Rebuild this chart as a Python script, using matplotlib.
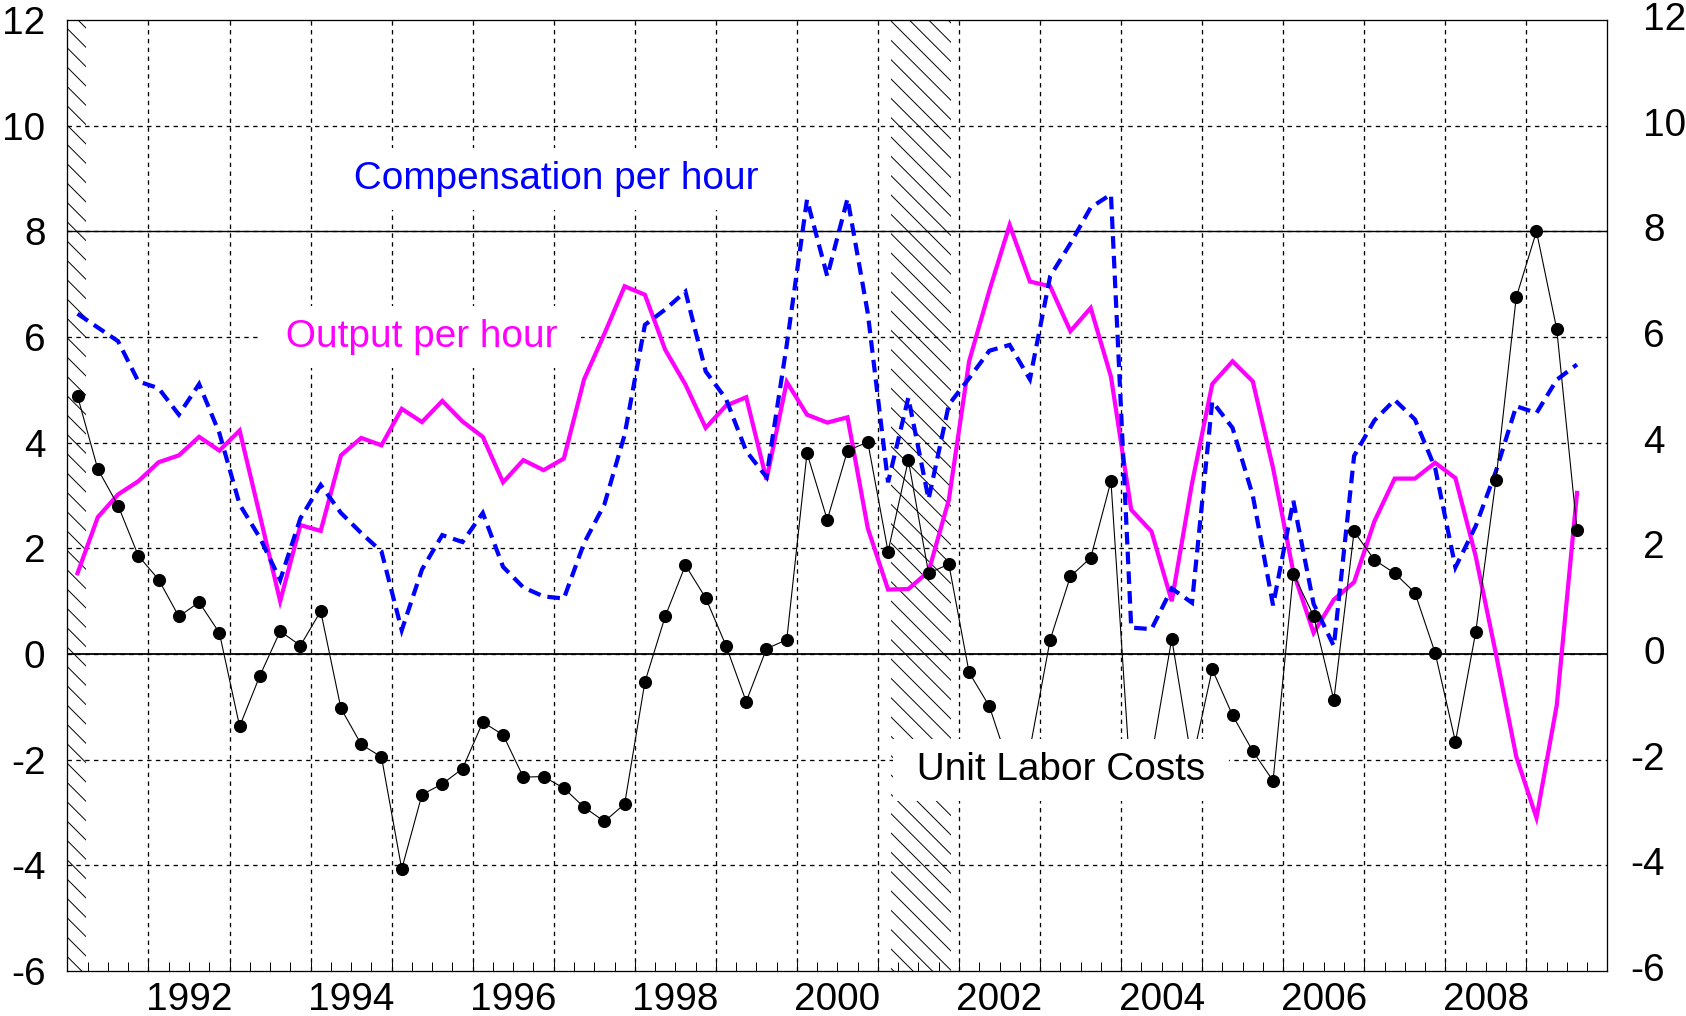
import matplotlib
matplotlib.use("Agg")
import matplotlib.pyplot as plt
import numpy as np
import pandas as pd
from matplotlib.transforms import offset_copy

plt.rcParams['font.family'] = ['Liberation Sans', 'DejaVu Sans']
plt.rcParams['axes.unicode_minus'] = False
plt.rcParams['hatch.linewidth'] = 0.6
plt.rcParams['hatch.color'] = 'black'

DPI = 116
PT = 72 / DPI  # pixels -> points

# quarterly data, 1991Q1 - 2009Q3 (percent change, annual rate)
quarters = pd.period_range('1991Q1', '2009Q3', freq='Q')

unit_labor_costs = [
    4.88, 3.50, 2.81, 1.86, 1.41, 0.71, 0.98, 0.40,
    -1.37, -0.41, 0.43, 0.16, 0.81, -1.03, -1.71, -1.95,
    -4.07, -2.66, -2.46, -2.17, -1.29, -1.53, -2.33, -2.32,
    -2.54, -2.90, -3.17, -2.84, -0.53, 0.71, 1.68, 1.06,
    0.16, -0.90, 0.10, 0.27, 3.80, 2.54, 3.85, 4.01,
    1.94, 3.67, 1.53, 1.70, -0.35, -0.99, -2.15, -1.80,
    0.27, 1.47, 1.82, 3.27, -2.60, -1.95, 0.29, -2.05,
    -0.29, -1.16, -1.84, -2.40, 1.52, 0.72, -0.87, 2.32,
    1.78, 1.53, 1.16, 0.02, -1.66, 0.41, 3.30, 6.75,
    8.00, 6.15, 2.35,
]

output_per_hour = [
    1.53, 2.59, 3.02, 3.27, 3.63, 3.76, 4.11, 3.85,
    4.23, 2.62, 1.00, 2.44, 2.33, 3.76, 4.09, 3.95,
    4.64, 4.39, 4.79, 4.40, 4.11, 3.25, 3.67, 3.48,
    3.70, 5.20, 6.06, 6.96, 6.80, 5.76, 5.10, 4.28,
    4.70, 4.86, 3.30, 5.15, 4.53, 4.38, 4.48, 2.38,
    1.22, 1.23, 1.56, 2.92, 5.54, 6.88, 8.12, 7.05,
    6.96, 6.11, 6.55, 5.25, 2.73, 2.32, 1.00, 3.23,
    5.11, 5.54, 5.16, 3.52, 1.55, 0.40, 1.03, 1.36,
    2.51, 3.32, 3.32, 3.62, 3.33, 1.85, 0.00, -1.94,
    -3.10, -0.97, 3.05,
]

compensation_per_hour = [
    6.44, 6.18, 5.92, 5.16, 5.03, 4.53, 5.11, 4.18,
    2.83, 2.20, 1.40, 2.57, 3.20, 2.67, 2.29, 1.94,
    0.45, 1.60, 2.25, 2.12, 2.67, 1.65, 1.26, 1.09,
    1.05, 2.10, 2.83, 4.15, 6.23, 6.52, 6.86, 5.35,
    4.83, 3.84, 3.35, 5.85, 8.60, 7.15, 8.62, 6.45,
    3.25, 4.85, 2.93, 4.72, 5.22, 5.74, 5.85, 5.20,
    7.15, 7.77, 8.45, 8.70, 0.50, 0.47, 1.24, 0.97,
    4.78, 4.28, 3.00, 0.92, 2.90, 0.95, 0.15, 3.75,
    4.42, 4.81, 4.44, 3.52, 1.64, 2.42, 3.46, 4.69,
    4.56, 5.19, 5.48,
]

# recessions (decimal years)
recession_start = [1990.5, 2001.16]
recession_end = [1991.23, 2001.90]

y_ticks = [-6, -4, -2, 0, 2, 4, 6, 8, 10, 12]
y_labels = [str(v) for v in y_ticks]
label_years = [1992, 1994, 1996, 1998, 2000, 2002, 2004, 2006, 2008]

FONT = 38.8 * PT


def main():
    # center of each quarter in decimal years
    t = quarters.year + (quarters.quarter - 1) / 4 + 0.125

    fig = plt.figure(figsize=(1686 / DPI, 1016 / DPI), dpi=DPI)
    ax = fig.add_axes([67.4 / 1686, 45 / 1016, 1540 / 1686, 951 / 1016])
    ax.set_xlim(1991, 2010)
    ax.set_ylim(-6, 12)

    # dotted grid
    grid_style = dict(color='black', lw=1.3 * PT, ls=(0, (3.4, 3.4)), zorder=1)
    for y in y_ticks[1:-1]:
        ax.axhline(y, **grid_style)
    ax.vlines(np.arange(1992, 2010), -6, 12, **grid_style)
    ax.axhline(0, color='black', lw=1.8 * PT, zorder=2)
    ax.axhline(8, color='black', lw=1.4 * PT, zorder=2)

    # recession hatching
    for a, b in zip(recession_start, recession_end):
        ax.axvspan(a, b, facecolor='none', edgecolor='black', hatch='\\\\',
                   lw=0, zorder=1.5)

    ax.plot(t, output_per_hour, color='#ff00ff', lw=4.2 * PT,
            solid_joinstyle='miter', zorder=3)
    ax.plot(t, compensation_per_hour, color='#0000ff', lw=4.2 * PT,
            ls=(0, (3.0, 1.7)), dash_capstyle='butt', dash_joinstyle='miter',
            zorder=4)
    ax.plot(t, unit_labor_costs, color='black', lw=1.1 * PT, marker='o',
            ms=11.5 * PT, zorder=5)

    # series labels
    box = dict(facecolor='white', edgecolor='none', pad=13 * PT)
    ax.text(1997.03, 8.80, ' Compensation per hour ', color='#0000ff',
            ha='center', va='baseline', fontsize=FONT, bbox=box, zorder=6)
    ax.text(1995.37, 5.81, ' Output per hour ', color='#ff00ff',
            ha='center', va='baseline', fontsize=FONT, bbox=box, zorder=6)
    ax.text(2003.26, -2.385, ' Unit Labor Costs ', color='black',
            ha='center', va='baseline', fontsize=FONT, bbox=box, zorder=6)

    # x axis: quarter ticks, year labels at mid-year
    ax.xaxis.remove_overlapping_locs = False
    ax.set_xticks(np.arange(1991, 2010.01, 0.25), minor=True)
    ax.set_xticks([y + 0.5 for y in label_years])
    ax.set_xticklabels([str(y) for y in label_years])
    ax.tick_params(axis='x', which='major', length=0, pad=10.5 * PT,
                   labelsize=FONT)
    ax.tick_params(axis='x', which='minor', direction='in', length=9.3 * PT,
                   width=1.0 * PT, top=False)

    # y axis labels on both sides
    ax.set_yticks(y_ticks)
    ax.set_yticklabels(y_labels)
    ax.tick_params(axis='y', length=0, pad=22 * PT, labelsize=FONT)
    for v, lab in zip(y_ticks, y_labels):
        dx = (23 if lab.startswith('-') else 36) * PT
        tr = offset_copy(ax.get_yaxis_transform(), fig=fig, x=dx, y=0,
                         units='points')
        ax.text(1, v, lab, transform=tr, ha='left', va='center',
                fontsize=FONT, clip_on=False)

    for s in ax.spines.values():
        s.set_linewidth(1.3 * PT)
        s.set_color('black')

    fig.savefig('out.png', dpi=DPI)


if __name__ == "__main__":
    main()
